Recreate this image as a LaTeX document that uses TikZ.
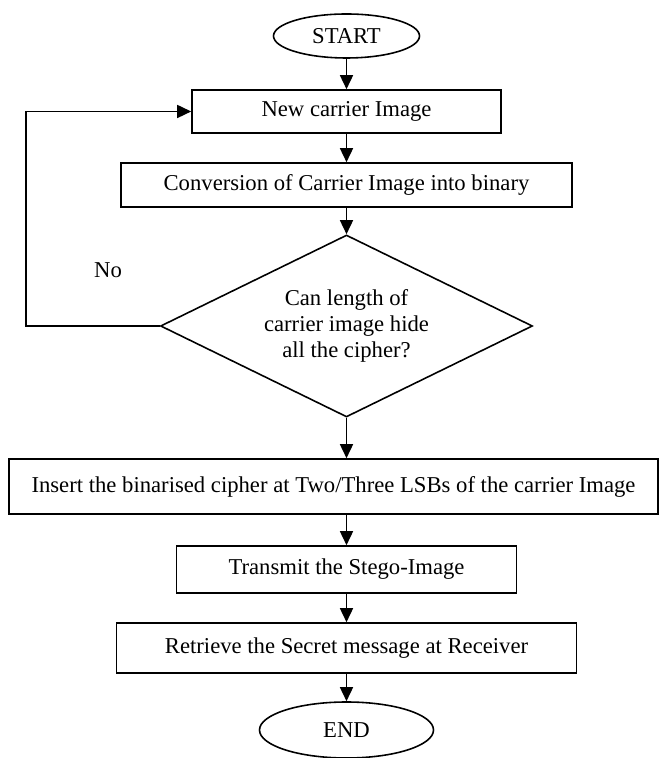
\documentclass[tikz,border=0pt]{standalone}
\usepackage{fontspec}
\setmainfont{Liberation Serif}
\usetikzlibrary{shapes.geometric,arrows.meta}

\begin{document}
\begin{tikzpicture}[
	font=\fontsize{12.9}{14.8}\selectfont,
	line width=0.9pt,
	>={Triangle[length=2.8mm,width=2.6mm]},
	proc/.style={draw,rectangle,inner sep=0pt,align=center},
	term/.style={draw,ellipse,inner sep=0pt},
	decide/.style={draw,diamond,aspect=2,inner sep=0pt,align=center}]
	\useasboundingbox (0,0) rectangle (13.26,15.16);
	\node[term,minimum width=2.92cm,minimum height=0.88cm] (start) at (6.93,14.44) {START};
	\node[proc,minimum width=6.18cm,minimum height=0.86cm] (newimg) at (6.93,12.93) {New carrier Image};
	\node[proc,minimum width=9.02cm,minimum height=0.88cm] (conv) at (6.93,11.46) {Conversion of Carrier Image into binary};
	\node[decide,minimum width=7.44cm,minimum height=3.64cm] (test) at (6.93,8.64) {Can length of\\carrier image hide\\all the cipher?};
	\node[proc,minimum width=12.98cm,minimum height=1.10cm] (insert) at (6.67,5.43) {Insert the binarised cipher at Two/Three LSBs of the carrier Image};
	\node[proc,minimum width=6.8cm,minimum height=0.94cm] (send) at (6.93,3.77) {Transmit the Stego-Image};
	\node[proc,minimum width=9.2cm,minimum height=1.0cm] (recv) at (6.93,2.2) {Retrieve the Secret message at Receiver};
	\node[term,minimum width=3.48cm,minimum height=1.12cm] (stop) at (6.93,0.56) {END};
	\coordinate (back) at (0.52,8.64);
	\node (no) at (2.16,9.76) {No};
	\draw[->] (start) -- (newimg);
	\draw[->] (newimg) -- (conv);
	\draw[->] (conv) -- (test);
	\draw[->] (test.south) -- (test.south |- insert.north);
	\draw[->] (insert.south -| send.north) -- (send.north);
	\draw[->] (send) -- (recv);
	\draw[->] (recv) -- (stop);
	\draw[->] (test.west) -- (back) |- (newimg.west);
\end{tikzpicture}
\end{document}
